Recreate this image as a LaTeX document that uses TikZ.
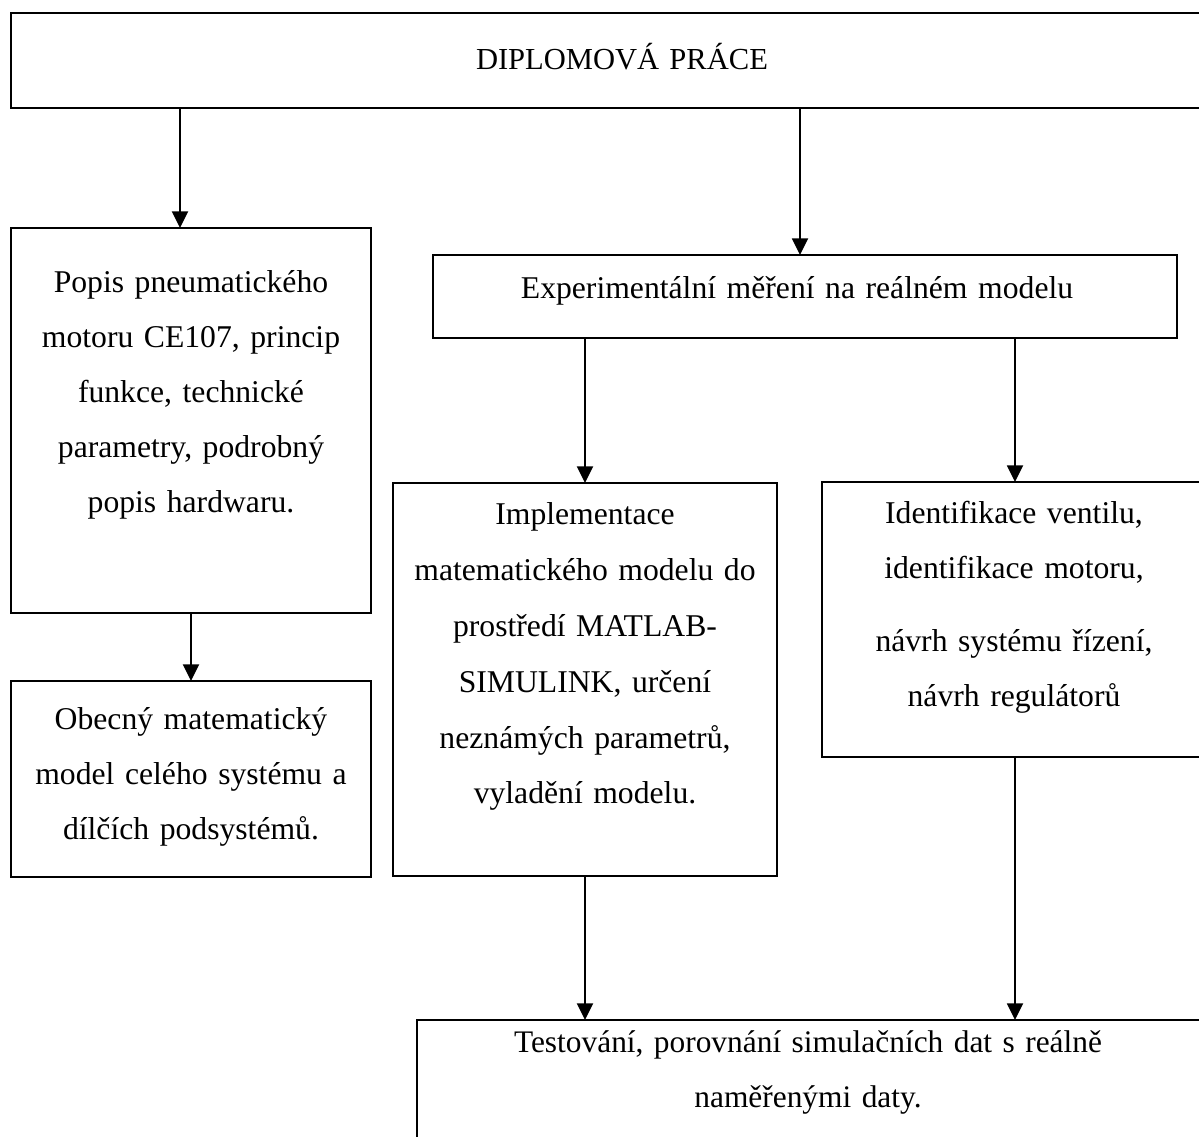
\documentclass[tikz,border=0pt]{standalone}
\usepackage{fontspec}
\setmainfont{Liberation Serif}
\usetikzlibrary{arrows.meta}
\begin{document}
\begin{tikzpicture}[x=0.36pt,y=-0.36pt,
  box/.style={draw, line width=0.75pt, anchor=north west, inner sep=0pt, outer sep=0pt},
  boxtext/.style={anchor=base, inner sep=0pt, align=center, text width=#1,
    font=\fontsize{11.4}{19.8}\selectfont},
  arr/.style={line width=0.55pt, -{Triangle[width=5.8pt,length=6pt]}}]

\useasboundingbox (0,0) rectangle (1199,1137);

% frames
\node[box, minimum width=1222*0.36pt, minimum height=95*0.36pt]  (diplom) at (11,13) {};
\node[box, minimum width=360*0.36pt,  minimum height=385*0.36pt] (popis)  at (11,228) {};
\node[box, minimum width=360*0.36pt,  minimum height=196*0.36pt] (obecny) at (11,681) {};
\node[box, minimum width=744*0.36pt,  minimum height=83*0.36pt]  (exper)  at (433,255) {};
\node[box, minimum width=384*0.36pt,  minimum height=393*0.36pt] (impl)   at (393,483) {};
\node[box, minimum width=390*0.36pt,  minimum height=275*0.36pt] (ident)  at (822,482) {};
\node[box, minimum width=790*0.36pt,  minimum height=200*0.36pt] (test)   at (417,1020) {};

% texts
\node[boxtext=240pt, font=\fontsize{11}{19.8}\selectfont] (diplom-t) at (622,70) {DIPLOMOVÁ PRÁCE};
\node[boxtext=128pt] (popis-t) at (191,293) {Popis pneumatického\\ motoru CE107, princip\\ funkce, technické\\ parametry, podrobný\\ popis hardwaru.};
\node[boxtext=128pt] (obecny-t) at (191,729) {Obecný matematický\\ model celého systému a\\ dílčích podsystémů.};
\node[boxtext=250pt] (exper-t) at (797,299) {Experimentální měření na reálném modelu};
\node[boxtext=136pt, font=\fontsize{11.4}{20.16}\selectfont] (impl-t) at (585,524) {Implementace\\ matematického modelu do\\ prostředí MATLAB-\\ SIMULINK, určení\\ neznámých parametrů,\\ vyladění modelu.};
\node[boxtext=134pt] (ident-t) at (1014,523) {Identifikace ventilu,\\ identifikace motoru,\\[6.5pt] návrh systému řízení,\\ návrh regulátorů};
\node[boxtext=260pt, font=\fontsize{11.3}{19.8}\selectfont] (test-t) at (808,1052) {Testování, porovnání simulačních dat s reálně\\ naměřenými daty.};

% arrow columns
\coordinate (c1) at (180,0);
\coordinate (c2) at (800,0);
\coordinate (c3) at (585,0);
\coordinate (c4) at (1015,0);
\coordinate (c5) at (191,0);

% connectors
\draw[arr] (diplom.south -| c1) -- (popis.north -| c1);
\draw[arr] (diplom.south -| c2) -- (exper.north -| c2);
\draw[arr] (exper.south -| c3) -- (impl.north -| c3);
\draw[arr] (exper.south -| c4) -- (ident.north -| c4);
\draw[arr] (popis.south -| c5) -- (obecny.north -| c5);
\draw[arr] (impl.south -| c3) -- (test.north -| c3);
\draw[arr] (ident.south -| c4) -- (test.north -| c4);
\end{tikzpicture}
\end{document}
